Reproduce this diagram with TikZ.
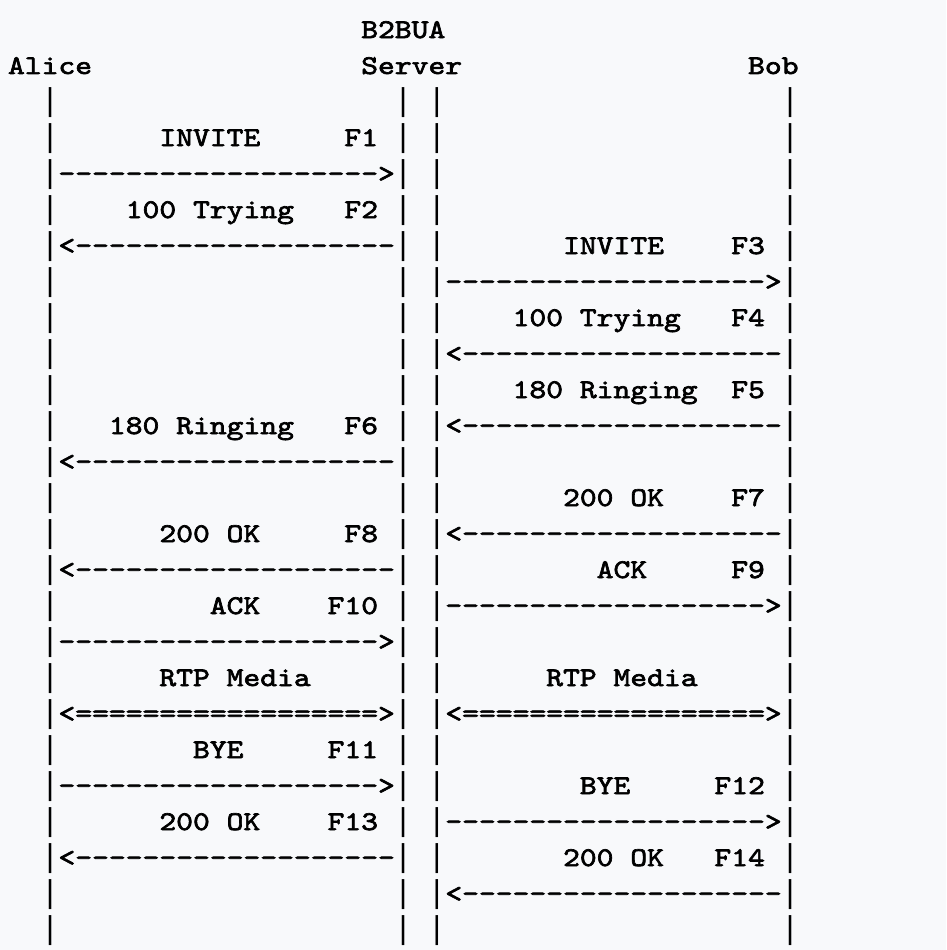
\documentclass[tikz,border=0pt]{standalone}
\usepackage{fontspec}
\newfontfamily\asciimono{lmmono10-regular}[Extension=.otf,FakeStretch=1.1866,FakeBold=2.5]
\newfontfamily\barfont{DejaVu Sans Mono}
\ExplSyntaxOn
\cs_new:Npn \Blank #1 { \prg_replicate:nn {#1} { \nobreakspace } }
\cs_new:Npn \Rep #1#2 { \prg_replicate:nn {#1} {#2} }
\ExplSyntaxOff
\definecolor{pagebg}{HTML}{F8F9FB}
\definecolor{ink}{HTML}{000000}
% one column holding a tall vertical bar
\newcommand\Bar{\hbox to 16.82pt{\hss{\barfont\fontsize{30pt}{36pt}\selectfont|}\hss}}
% segments of 20 columns
\newcommand\SegB{\Blank{20}}
\newcommand\SegR{\Rep{19}{-}>}
\newcommand\SegL{<\Rep{19}{-}}
\newcommand\SegD{<\Rep{18}{=}>}
% label segment: lead spaces, text, gap, tag, trail
\newcommand\SegT[5]{\Blank{#1}#2\Blank{#3}#4\Blank{#5}}
\newcommand\Row[2]{\Blank{2}\Bar#1\Bar\Blank{1}\Bar#2\Bar}
\tikzset{ascii/.style={anchor=base west,inner sep=0pt,outer sep=0pt,
  font=\asciimono\fontsize{27pt}{36pt}\selectfont,text=ink}}
\begin{document}
\begin{tikzpicture}[x=1pt,y=-1pt]
\fill[pagebg] (0,0) rectangle (946,950);
\useasboundingbox (0,0) rectangle (946,950);
\node[ascii] (r1) at (8,38) {\Blank{21}B2BUA};
\node[ascii] (r2) at (8,74) {Alice\Blank{16}Server\Blank{17}Bob};
\node[ascii] (r3) at (8,110) {\Row{\SegB}{\SegB}};
\node[ascii] (r4) at (8,146) {\Row{\SegT{6}{INVITE}{5}{F1}{1}}{\SegB}};
\node[ascii] (r5) at (8,182) {\Row{\SegR}{\SegB}};
\node[ascii] (r6) at (8,218) {\Row{\SegT{4}{100 Trying}{3}{F2}{1}}{\SegB}};
\node[ascii] (r7) at (8,254) {\Row{\SegL}{\SegT{7}{INVITE}{4}{F3}{1}}};
\node[ascii] (r8) at (8,290) {\Row{\SegB}{\SegR}};
\node[ascii] (r9) at (8,326) {\Row{\SegB}{\SegT{4}{100 Trying}{3}{F4}{1}}};
\node[ascii] (r10) at (8,362) {\Row{\SegB}{\SegL}};
\node[ascii] (r11) at (8,398) {\Row{\SegB}{\SegT{4}{180 Ringing}{2}{F5}{1}}};
\node[ascii] (r12) at (8,434) {\Row{\SegT{3}{180 Ringing}{3}{F6}{1}}{\SegL}};
\node[ascii] (r13) at (8,470) {\Row{\SegL}{\SegB}};
\node[ascii] (r14) at (8,506) {\Row{\SegB}{\SegT{7}{200 OK}{4}{F7}{1}}};
\node[ascii] (r15) at (8,542) {\Row{\SegT{6}{200 OK}{5}{F8}{1}}{\SegL}};
\node[ascii] (r16) at (8,578) {\Row{\SegL}{\SegT{9}{ACK}{5}{F9}{1}}};
\node[ascii] (r17) at (8,614) {\Row{\SegT{9}{ACK}{4}{F10}{1}}{\SegR}};
\node[ascii] (r18) at (8,650) {\Row{\SegR}{\SegB}};
\node[ascii] (r19) at (8,686) {\Row{\SegT{6}{RTP Media}{5}{}{0}}{\SegT{6}{RTP Media}{5}{}{0}}};
\node[ascii] (r20) at (8,722) {\Row{\SegD}{\SegD}};
\node[ascii] (r21) at (8,758) {\Row{\SegT{8}{BYE}{5}{F11}{1}}{\SegB}};
\node[ascii] (r22) at (8,794) {\Row{\SegR}{\SegT{8}{BYE}{5}{F12}{1}}};
\node[ascii] (r23) at (8,830) {\Row{\SegT{6}{200 OK}{4}{F13}{1}}{\SegR}};
\node[ascii] (r24) at (8,866) {\Row{\SegL}{\SegT{7}{200 OK}{3}{F14}{1}}};
\node[ascii] (r25) at (8,902) {\Row{\SegB}{\SegL}};
\node[ascii] (r26) at (8,938) {\Row{\SegB}{\SegB}};
\end{tikzpicture}
\end{document}
